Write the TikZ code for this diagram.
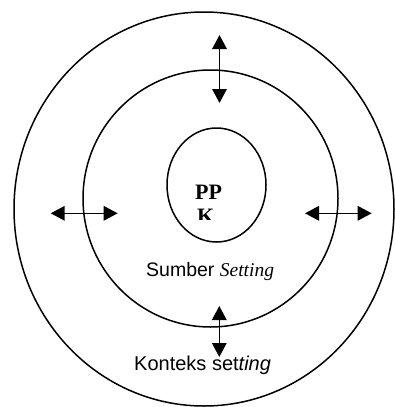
\documentclass[tikz,border=0pt]{standalone}
\usepackage{fontspec}
\setmainfont{Liberation Serif}
\setsansfont{Liberation Sans}
\usetikzlibrary{arrows.meta}
\begin{document}
\begin{tikzpicture}[x=1pt,y=-1pt,
  ring/.style={draw=black,line width=1.5pt},
  dblarrow/.style={line width=1.6pt,{Triangle[length=14pt,width=14.5pt]}-{Triangle[length=14pt,width=14.5pt]}},
  lbl/.style={inner sep=0pt,anchor=base west}]
\useasboundingbox (0,0) rectangle (395,407);
\fill[white] (0,0) rectangle (395,407);
\draw[ring] (204,209) ellipse [x radius=190, y radius=197];
\draw[ring] (210.5,198.5) ellipse [x radius=127.5, y radius=128.5];
\draw[ring] (216.5,185) ellipse [x radius=49.5, y radius=57];
% arrow ends
\coordinate (t1) at (219.5,35);
\coordinate (t2) at (219.5,103);
\coordinate (b1) at (219.3,306);
\coordinate (b2) at (219.3,357);
\coordinate (l1) at (50.7,213.3);
\coordinate (l2) at (117.7,213.3);
\coordinate (r1) at (305,213.3);
\coordinate (r2) at (371.7,213.3);
\draw[dblarrow] (t1) -- (t2);
\draw[dblarrow] (b1) -- (b2);
\draw[dblarrow] (l1) -- (l2);
\draw[dblarrow] (r1) -- (r2);
% texts
\node[lbl] (pp) at (195,199) {\fontsize{22}{24}\selectfont\bfseries PP};
\begin{scope}
\clip (150,200) rectangle (260,219.5);
\node[lbl] (k) at (197,223) {\fontsize{22}{24}\selectfont\bfseries K};
\end{scope}
\node[lbl] (sumber) at (146,276) {\fontsize{19.5}{22}\selectfont\sffamily Sumber \rmfamily\itshape Setting};
\node[lbl] (konteks) at (134,370.7) {\fontsize{20}{22}\selectfont\sffamily Konteks set\itshape ting};
\end{tikzpicture}
\end{document}
